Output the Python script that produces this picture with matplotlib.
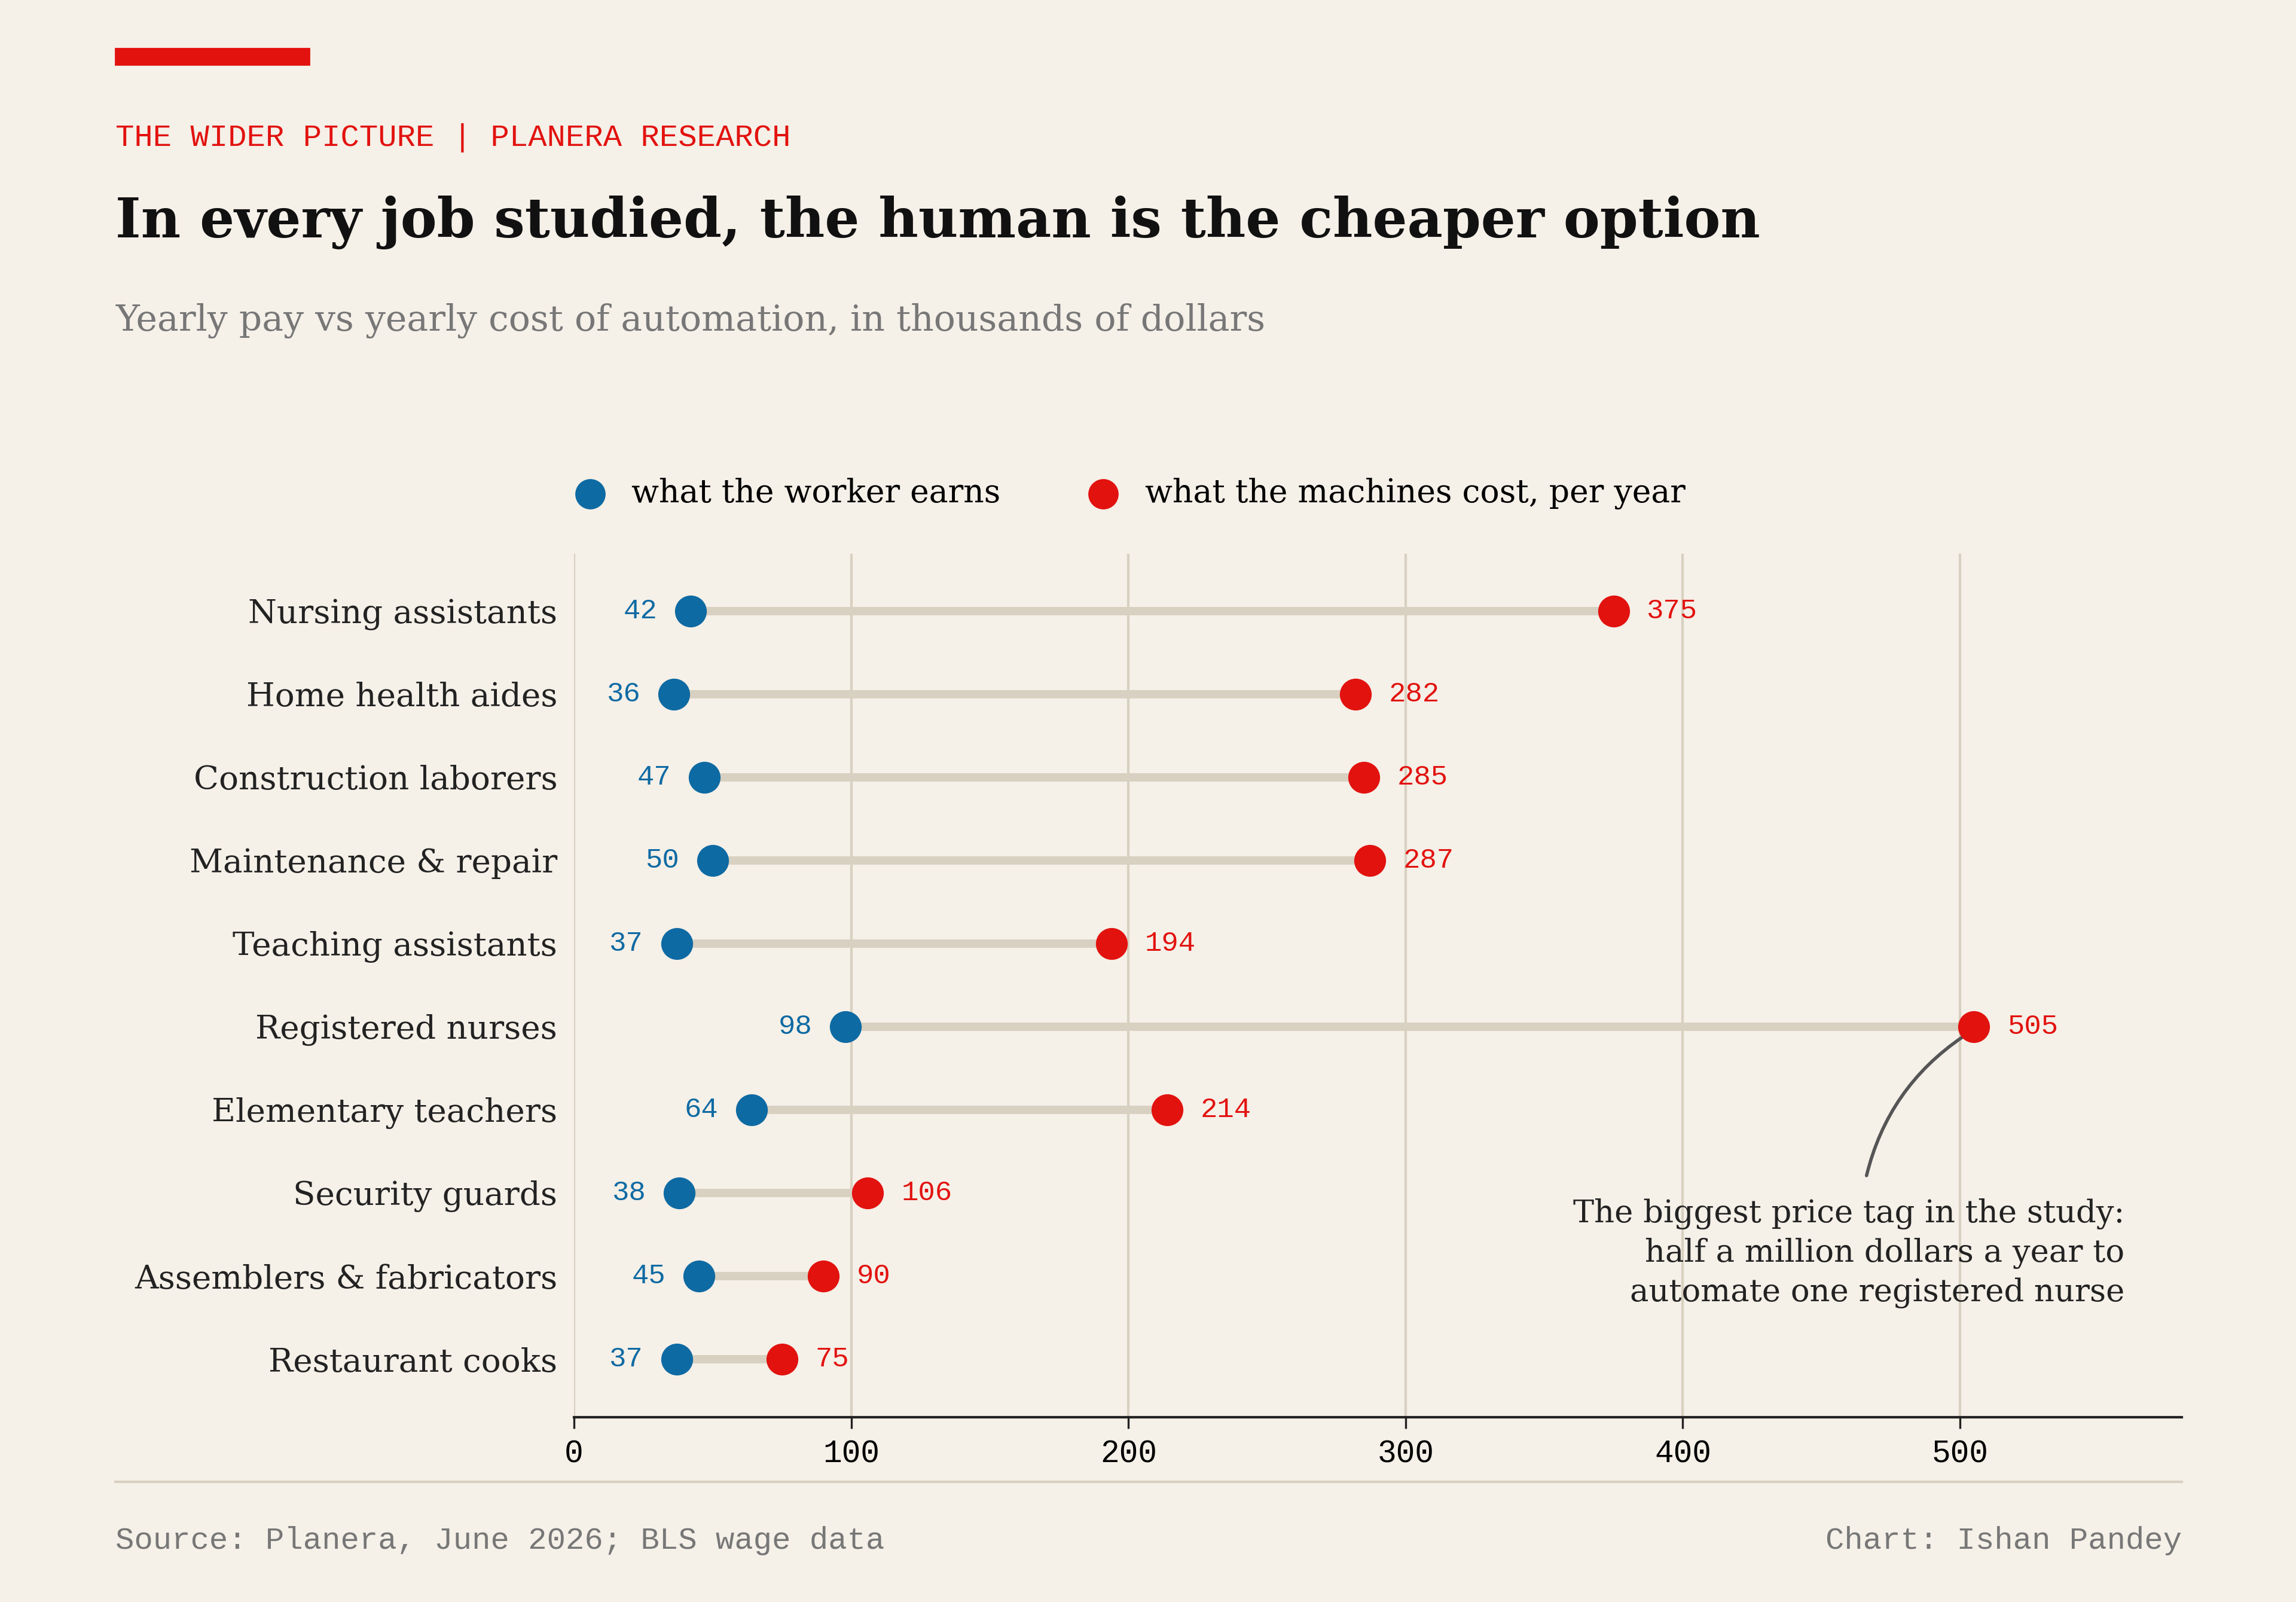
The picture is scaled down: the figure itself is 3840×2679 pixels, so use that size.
import matplotlib
matplotlib.use("Agg")
import matplotlib.pyplot as plt
from matplotlib.patches import Rectangle, FancyArrowPatch

jobs = ["Nursing assistants", "Home health aides", "Construction laborers",
        "Maintenance & repair", "Teaching assistants", "Registered nurses",
        "Elementary teachers", "Security guards", "Assemblers & fabricators",
        "Restaurant cooks"]
worker = [42, 36, 47, 50, 37, 98, 64, 38, 45, 37]
machine = [375, 282, 285, 287, 194, 505, 214, 106, 90, 75]
xticks = [0, 100, 200, 300, 400, 500]

BG = "#f5f0e8"; BLUE = "#0e6aa3"; RED = "#e2120f"; GRID = "#d8d0c0"
SERIF = ["DejaVu Serif"]
MONO = ["Liberation Mono", "DejaVu Sans Mono"]

W, H = 1568, 1094
fig = plt.figure(figsize=(19.2, 13.395), dpi=200, facecolor=BG)
ax = fig.add_axes([392/W, 1-968/H, (1490-392)/W, (968-378)/H], facecolor=BG)

n = len(jobs)
ys = list(range(n))
for y, w, m in zip(ys, worker, machine):
    ax.plot([w, m], [y, y], color=GRID, lw=5, solid_capstyle="round", zorder=1)
ax.scatter(worker, ys, s=330, color=BLUE, zorder=3, label="what the worker earns")
ax.scatter(machine, ys, s=330, color=RED, zorder=3, label="what the machines cost, per year")
for y, w, m in zip(ys, worker, machine):
    ax.text(w - 12, y, str(w), color=BLUE, ha="right", va="center", fontsize=17, family=MONO)
    ax.text(m + 12, y, str(m), color=RED, ha="left", va="center", fontsize=17, family=MONO)

ax.set_xlim(0, 580)
ax.set_ylim(9.7, -0.69)
ax.set_xticks(xticks)
ax.set_xticklabels([str(t) for t in xticks], family=MONO, fontsize=19)
ax.set_yticks(ys)
ax.set_yticklabels(jobs, family=SERIF, fontsize=19.7, color="#222")
ax.tick_params(axis="y", length=0, pad=10)
ax.tick_params(axis="x", length=7, width=1.2, pad=6, color="#222")
ax.grid(axis="x", color=GRID, lw=1.5, zorder=0)
for s in ["top", "right", "left"]:
    ax.spines[s].set_visible(False)
ax.spines["bottom"].set_color("#222"); ax.spines["bottom"].set_linewidth(1.5)

fig.legend(loc="center", bbox_to_anchor=(766/W, 1-337/H), ncol=2, frameon=False,
           prop={"family": SERIF, "size": 19.3}, markerscale=0.95,
           handletextpad=0.3, columnspacing=2.2)

fig.text(1451/W, 1-856/H, "The biggest price tag in the study:\nhalf a million dollars a year to\nautomate one registered nurse",
         ha="right", va="center", family=SERIF, fontsize=19, color="#222", linespacing=1.35)
ax.add_patch(FancyArrowPatch((466, 6.83), (502, 5.1), connectionstyle="arc3,rad=-0.2",
                             arrowstyle="-", color="#555", lw=2, zorder=2))

fig.add_artist(Rectangle((79/W, 1-44/H), (211-79)/W, 11/H, color=RED, transform=fig.transFigure))
fig.text(79/W, 1-94/H, "THE WIDER PICTURE | PLANERA RESEARCH", color=RED, family=MONO,
         fontsize=18.8, va="center")
fig.text(79/W, 1-152/H, "In every job studied, the human is the cheaper option", color="#111",
         family=SERIF, fontsize=32.9, fontweight="bold", va="center")
fig.text(79/W, 1-219/H, "Yearly pay vs yearly cost of automation, in thousands of dollars",
         color="#777", family=SERIF, fontsize=21.6, va="center")
fig.add_artist(plt.Line2D([79/W, 1490/W], [1-1012/H]*2, color=GRID, lw=1.5))
fig.text(79/W, 1-1052/H, "Source: Planera, June 2026; BLS wage data", color="#777",
         family=MONO, fontsize=18.8, va="center")
fig.text(1490/W, 1-1052/H, "Chart: Ishan Pandey", color="#777", family=MONO,
         fontsize=18.8, va="center", ha="right")

fig.savefig("out.png", dpi=200, facecolor=BG)
